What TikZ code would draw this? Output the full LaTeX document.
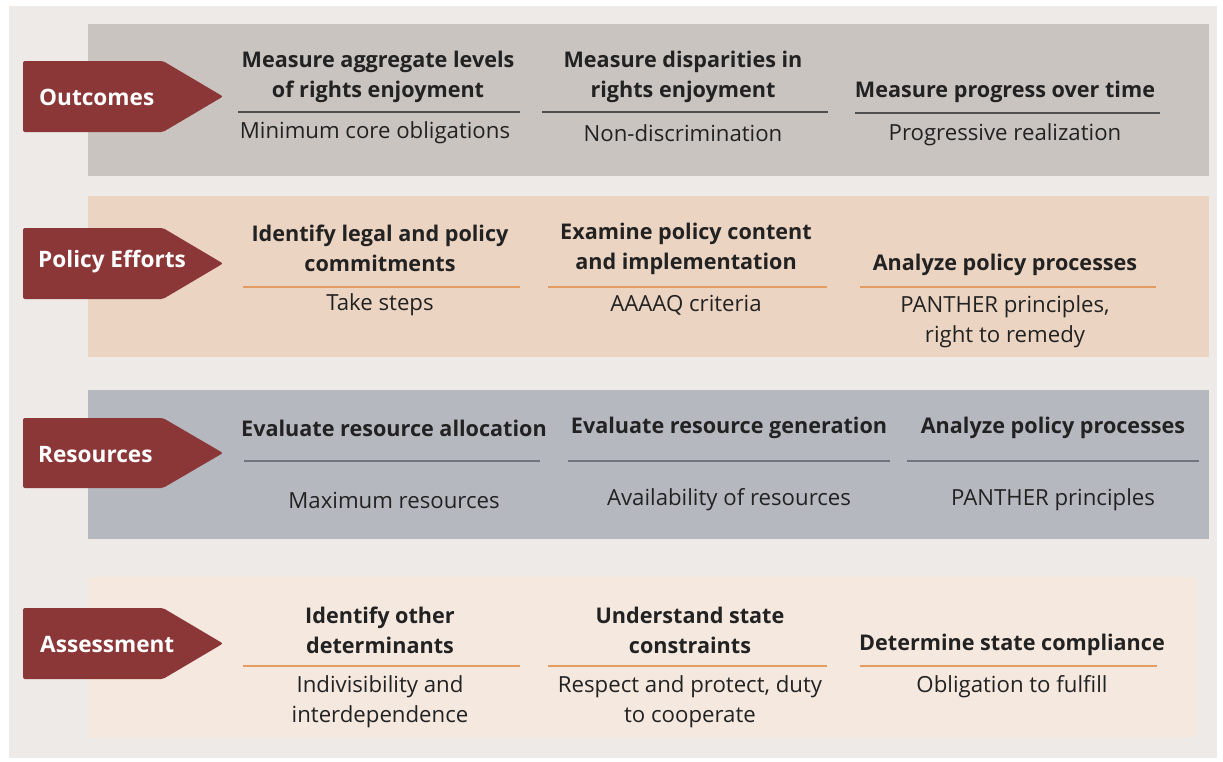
\documentclass[tikz,border=0pt]{standalone}
\usepackage{fontspec}
\setmainfont{Open Sans}
\definecolor{panelgray}{HTML}{EDEAE7}
\definecolor{outgray}{HTML}{C9C4C0}
\definecolor{polpeach}{HTML}{EBD4C2}
\definecolor{resgray}{HTML}{B5B9BF}
\definecolor{asspeach}{HTML}{F4E8DF}
\definecolor{tagred}{HTML}{8B3637}
\definecolor{textdark}{HTML}{222222}
\definecolor{ruledark}{HTML}{4F4F4F}
\definecolor{ruleorange}{HTML}{E39C62}
\definecolor{rulegray}{HTML}{6F757C}

\begin{document}
\begin{tikzpicture}[x=1pt,y=-1pt,
  head/.style={font=\bfseries\fontsize{21.6}{30}\selectfont,text=textdark,align=center,inner sep=0pt},
  sub/.style={font=\fontsize{22.2}{30}\selectfont,text=textdark,align=center,inner sep=0pt},
  tag/.style={font=\bfseries\fontsize{22.6}{26}\selectfont,text=white,anchor=west,inner sep=0pt},
  tagshape/.style={fill=tagred,rounded corners=2pt},
  rule/.style={line width=1.2pt}]
\useasboundingbox (0,0) rectangle (1223,761);
\fill[white] (0,0) rectangle (1223,761);
\fill[panelgray] (9,6) rectangle (1217,758);
% bands
\fill[outgray] (88,24) rectangle (1209,176);
\fill[polpeach] (88,196) rectangle (1209,357);
\fill[resgray] (88,390) rectangle (1209,539);
\fill[asspeach] (88,577) rectangle (1197,737);
% tags
\fill[tagshape] (23,61) -- (163,61) -- (223,96.5) -- (163,132) -- (23,132) -- cycle;
\node[tag] (outcomes) at (39,97) {Outcomes};
\fill[tagshape] (23,228) -- (163,228) -- (223,263.5) -- (163,299) -- (23,299) -- cycle;
\node[tag] (policy) at (38,262) {Policy Efforts};
\fill[tagshape] (23,418) -- (163,418) -- (223,453) -- (163,488) -- (23,488) -- cycle;
\node[tag] (resources) at (38,455) {Resources};
\fill[tagshape] (23,608) -- (163,608) -- (223,643.5) -- (163,679) -- (23,679) -- cycle;
\node[tag] (assessment) at (40,644) {Assessment};
% outcomes
\node[head] (aggregate) at (378,77) {Measure aggregate levels\\of rights enjoyment};
\draw[rule,ruledark] (238,112) -- (520,112);
\node[sub] (mincore) at (375,133) {Minimum core obligations};
\node[head] (disparity) at (683,77) {Measure disparities in\\rights enjoyment};
\draw[rule,ruledark] (542,112) -- (828,112);
\node[sub] (nondisc) at (683,133) {Non-discrimination};
\node[head] (progress) at (1005,92) {Measure progress over time};
\draw[rule,ruledark] (855,113) -- (1160,113);
\node[sub] (progreal) at (1005,135) {Progressive realization};
% policy efforts
\node[head] (legal) at (380,248.5) {Identify legal and policy\\commitments};
\draw[rule,ruleorange] (243,287) -- (520,287);
\node[sub] (steps) at (380,305) {Take steps};
\node[head] (content) at (686,248.5) {Examine policy content\\and implementation};
\draw[rule,ruleorange] (548,287) -- (827,287);
\node[sub] (aaaaq) at (686,305) {AAAAQ criteria};
\node[head] (polproc) at (1005,265) {Analyze policy processes};
\draw[rule,ruleorange] (860,287) -- (1156,287);
\node[sub] (panther) at (1005,322) {PANTHER principles,\\right to remedy};
% resources
\node[head] (alloc) at (394,428) {Evaluate resource allocation};
\draw[rule,rulegray] (244,461) -- (540,461);
\node[sub] (maxres) at (394,500) {Maximum resources};
\node[head] (gener) at (729,428) {Evaluate resource generation};
\draw[rule,rulegray] (568,461) -- (890,461);
\node[sub] (avail) at (729,500) {Availability of resources};
\node[head] (resproc) at (1053,428) {Analyze policy processes};
\draw[rule,rulegray] (907,461) -- (1199,461);
\node[sub] (respanther) at (1053,500) {PANTHER principles};
% assessment
\node[head] (determ) at (380,630) {Identify other\\determinants};
\draw[rule,ruleorange] (243,666) -- (520,666);
\node[sub] (indiv) at (380,702) {Indivisibility and\\interdependence};
\node[head] (constr) at (690,630) {Understand state\\constraints};
\draw[rule,ruleorange] (548,666) -- (827,666);
\node[sub] (respect) at (690,702) {Respect and protect, duty\\to cooperate};
\node[head] (comply) at (1012,645) {Determine state compliance};
\draw[rule,ruleorange] (860,666) -- (1157,666);
\node[sub] (fulfill) at (1012,687) {Obligation to fulfill};
\end{tikzpicture}
\end{document}
